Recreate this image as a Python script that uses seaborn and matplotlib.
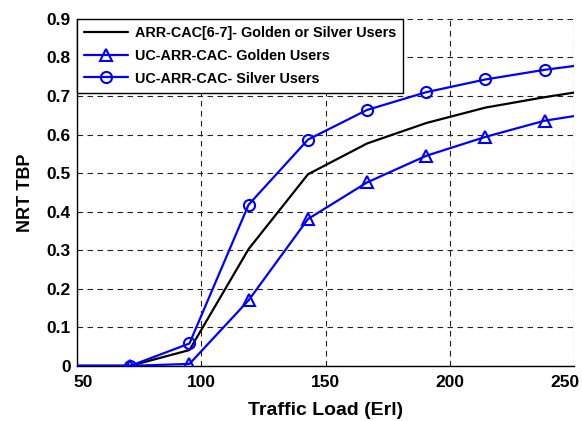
import matplotlib
matplotlib.use("Agg")
import matplotlib.pyplot as plt
import matplotlib.transforms as mtransforms
import seaborn as sns
import pandas as pd

traffic_load = [47.6, 71.4, 95.2, 119.0, 142.9, 166.7, 190.5, 214.3, 238.1, 261.9]
arr_cac = [0.0, 0.0, 0.041, 0.303, 0.497, 0.577, 0.630, 0.670, 0.697, 0.721]
uc_golden = [0.0, 0.0, 0.005, 0.170, 0.381, 0.476, 0.545, 0.594, 0.636, 0.660]
uc_silver = [0.0, 0.0, 0.058, 0.418, 0.587, 0.664, 0.710, 0.743, 0.768, 0.788]

labels = ["ARR-CAC[6-7]- Golden or Silver Users",
          "UC-ARR-CAC- Golden Users",
          "UC-ARR-CAC- Silver Users"]
x_ticks = [50, 100, 150, 200, 250]
y_ticks = [0, 0.1, 0.2, 0.3, 0.4, 0.5, 0.6, 0.7, 0.8, 0.9]
y_tick_labels = ["0", "0.1", "0.2", "0.3", "0.4", "0.5", "0.6", "0.7", "0.8", "0.9"]

sns.set_style("white")
plt.rcParams['font.family'] = ['Liberation Sans', 'DejaVu Sans']
plt.rcParams['font.weight'] = 'bold'
plt.rcParams['text.color'] = 'black'
plt.rcParams['axes.labelcolor'] = 'black'
plt.rcParams['xtick.color'] = 'black'
plt.rcParams['ytick.color'] = 'black'

fig = plt.figure(figsize=(5.82, 4.21), dpi=100)
ax = fig.add_axes([0.1325, 0.131, 0.854, 0.824])

df = pd.DataFrame({"x": traffic_load, "a": arr_cac, "g": uc_golden, "s": uc_silver})

sns.lineplot(data=df, x="x", y="a", ax=ax, color="black", lw=1.6,
             label=labels[0], zorder=3)
sns.lineplot(data=df, x="x", y="g", ax=ax, color="#0000ff", lw=1.6,
             marker="^", markersize=8, markerfacecolor="none",
             markeredgecolor="#0000ff", markeredgewidth=1.5,
             label=labels[1], zorder=3)
sns.lineplot(data=df, x="x", y="s", ax=ax, color="#0000ff", lw=1.6,
             marker="o", markersize=8, markerfacecolor="none",
             markeredgecolor="#0000ff", markeredgewidth=1.5,
             label=labels[2], zorder=3)

ax.set_xlim(50, 250)
ax.set_ylim(0, 0.9)
ax.set_xticks(x_ticks)
ax.set_xticklabels([str(v) for v in x_ticks])
ax.set_yticks(y_ticks)
ax.set_yticklabels(y_tick_labels)
ax.tick_params(axis='x', labelsize=12.5, length=0, pad=6.5, colors='black')
ax.tick_params(axis='y', labelsize=12.5, length=0, pad=4.5, colors='black')
for t in ax.get_xticklabels() + ax.get_yticklabels():
    t.set_fontweight('bold')
    t.set_color('black')

# nudge the edge x tick labels inward like the reference
xt = ax.get_xticklabels()
xt[0].set_transform(xt[0].get_transform() +
                    mtransforms.ScaledTranslation(6 / 100, 0, fig.dpi_scale_trans))
xt[-1].set_transform(xt[-1].get_transform() +
                     mtransforms.ScaledTranslation(-9 / 100, 0, fig.dpi_scale_trans))

ax.grid(True, color="#222222", linestyle=(0, (5, 4)), linewidth=0.8)
ax.set_axisbelow(True)
for s in ["top", "right"]:
    ax.spines[s].set_visible(False)
for s in ["left", "bottom"]:
    ax.spines[s].set_color("black")
    ax.spines[s].set_linewidth(1.0)

ax.set_xlabel("Traffic Load (Erl)", fontsize=14, fontweight='bold', labelpad=9, color='black')
ax.set_ylabel("NRT TBP", fontsize=13, fontweight='bold', labelpad=9, color='black')

leg = ax.legend(loc="upper left", fontsize=10.4, frameon=True, fancybox=False,
                handlelength=3.0, borderaxespad=0.0, borderpad=0.5,
                labelspacing=0.6, handletextpad=0.5)
leg.get_frame().set_edgecolor("black")
leg.get_frame().set_linewidth(1.0)
leg.get_frame().set_alpha(1)
for t in leg.get_texts():
    t.set_fontweight('bold')
    t.set_color('black')

fig.savefig("out.png", dpi=100)
